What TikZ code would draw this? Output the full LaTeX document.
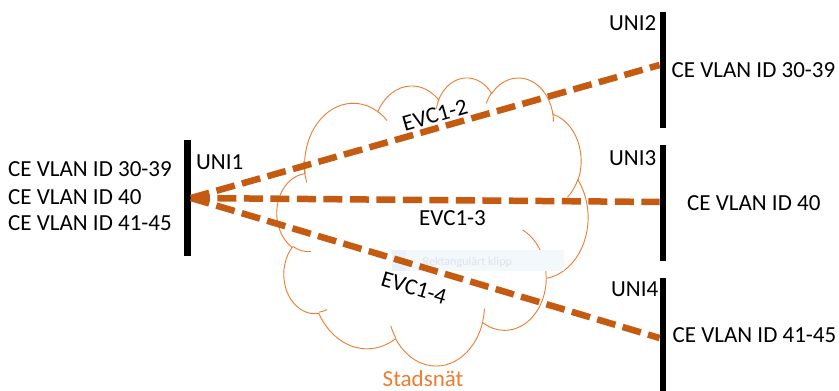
\documentclass[tikz,border=0pt]{standalone}
\usepackage{fontspec}
\setmainfont{Carlito}
\definecolor{linkorange}{HTML}{C55A11}
\definecolor{cloudorange}{HTML}{ED7D31}
\definecolor{tipfill}{HTML}{F3F8FD}
\definecolor{tipicon}{HTML}{E9F1FA}
\definecolor{tiptext}{HTML}{DCE3EB}
% Elliptical arc given by radii, start angle and sweep (visual angles, y pointing down)
\newcommand\cloudarc[4]{arc[x radius=#1pt, y radius=#2pt,
  start angle={atan2(#1*sin(#3),#2*cos(#3))},
  delta angle={mod(atan2(#1*sin(#3+#4),#2*cos(#3+#4))-atan2(#1*sin(#3),#2*cos(#3))+720,360)}]}
\tikzset{
  lbl/.style={font=\fontsize{23}{27}\selectfont, inner sep=0pt, anchor=base west},
  evc/.style={font=\fontsize{23}{27}\selectfont, inner sep=0pt},
  unibar/.style={fill=black, draw=none, inner sep=0pt, minimum width=6.5pt},
  link/.style={draw=linkorange, line width=6.5pt, dash pattern=on 19pt off 7.5pt},
  cloudline/.style={draw=cloudorange, line width=0.9pt},
}
\begin{document}
\begin{tikzpicture}[x=1pt, y=-1pt]
\fill[white] (0,0) rectangle (839,391);
\useasboundingbox (0,0) rectangle (839,391);

% city network cloud
\begin{scope}[shift={(277,77)}, xscale=311/432, yscale=-288/432]
  \path[cloudline, fill=white] (39.00pt,143.70pt)
    \cloudarc{67.53}{91.90}{-190.48748}{123.78053}
    \cloudarc{53.33}{72.67}{-144.10238}{89.94523}
    \cloudarc{43.65}{59.45}{-145.80792}{99.72302}
    \cloudarc{48.57}{65.95}{-130.98607}{117.24173}
    \cloudarc{53.33}{72.73}{-78.70888}{109.02692}
    \cloudarc{67.75}{92.20}{-46.26725}{130.26900}
    \cloudarc{57.85}{78.67}{0.62502}{114.03333}
    \cloudarc{67.52}{92.15}{22.45160}{115.17255}
    \cloudarc{77.20}{105.43}{66.24263}{75.71102}
    \cloudarc{43.60}{59.18}{-274.94208}{146.73557}
    \cloudarc{43.45}{59.45}{-246.82850}{152.51885}
    -- cycle;
  \path[cloudline]
    (46.93pt,261.77pt) \cloudarc{43.45}{59.45}{86.742}{26.4295}
    (69.28pt,348.99pt) \cloudarc{43.60}{59.18}{73.61047}{11.44747}
    (164.78pt,390.90pt) \cloudarc{67.52}{92.15}{137.62415}{14.0811}
    (288.27pt,347.51pt) \cloudarc{67.52}{92.15}{6.45327}{15.99835}
    (341.29pt,229.54pt) \cloudarc{57.85}{78.67}{-70.29235}{70.91737}
    (417.98pt,153.54pt) \cloudarc{53.33}{72.73}{30.31803}{27.7515}
    (383.24pt,54.26pt) \cloudarc{48.57}{65.95}{-13.74433}{14.8589}
    (290.78pt,39.52pt) \cloudarc{48.57}{65.95}{-149.18145}{18.19537}
    (221.41pt,47.20pt) \cloudarc{43.65}{59.45}{-163.49427}{17.68635}
    (140.00pt,51.92pt) \cloudarc{67.53}{91.90}{-66.70695}{12.31935}
    (41.27pt,157.89pt) \cloudarc{67.53}{91.90}{153.94853}{26.69377};
\end{scope}
\node[lbl, text=cloudorange] (net) at (382.5,386.5) {Stadsnät};

% clipping tool hint
\node[fill=tipfill, inner sep=0pt, minimum width=172pt, minimum height=21pt, anchor=north west] (tip) at (392,250) {};
\fill[tipicon] (tip.north west) rectangle ([xshift=14pt]tip.south west);
\node[inner sep=0pt, anchor=base west, text=tiptext, font=\fontsize{12.1}{14}\selectfont] (tiptxt) at (422.5,265) {Rektangulärt klipp};

% user network interfaces
\node[unibar, minimum height=116pt] (uni1) at (187.5,198) {};
\node[unibar, minimum height=116pt] (uni2) at (663,70) {};
\node[unibar, minimum height=116pt] (uni3) at (663,203) {};
\node[unibar, minimum height=113pt] (uni4) at (663,334.5) {};

% virtual connections
\coordinate (hub) at (uni1.east);
\coordinate (end2) at ([yshift=5pt]uni2.west);
\coordinate (end3) at ([yshift=1pt]uni3.west);
\coordinate (end4) at ([yshift=-3.5pt]uni4.west);
\draw[link] (hub) -- (end2);
\draw[link] (hub) -- (end3);
\draw[link] (hub) -- (end4);

\node[evc, rotate=16] (evc2) at (435,115) {EVC1-2};
\node[lbl] (evc3) at (419,225) {EVC1-3};
\node[evc, rotate=-16.5] (evc4) at (414,288) {EVC1-4};

% interface labels
\node[lbl] (u1) at (196,169) {UNI1};
\node[lbl] (u2) at (609,30.5) {UNI2};
\node[lbl] (u3) at (609,165) {UNI3};
\node[lbl] (u4) at (611,296.5) {UNI4};

\node[lbl] (l1) at (8,176.5) {CE VLAN ID 30-39};
\node[lbl] (l2) at (8,204) {CE VLAN ID 40};
\node[lbl] (l3) at (8,230.5) {CE VLAN ID 41-45};

\node[lbl] (r2) at (671.5,77.3) {CE VLAN ID 30-39};
\node[lbl] (r3) at (687,210.7) {CE VLAN ID 40};
\node[lbl] (r4) at (672.5,342.7) {CE VLAN ID 41-45};
\end{tikzpicture}
\end{document}
